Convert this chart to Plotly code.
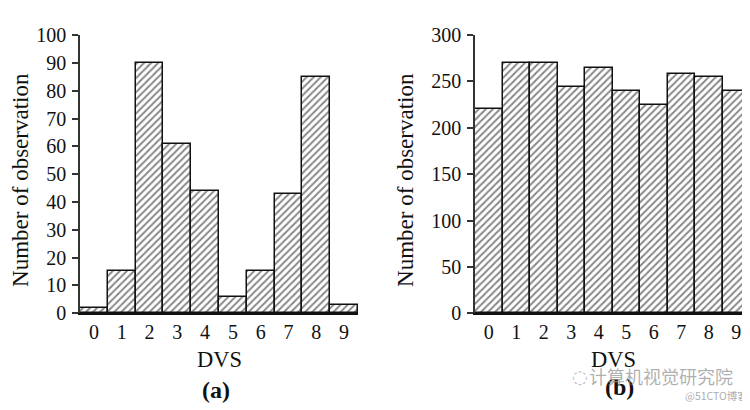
import plotly.graph_objects as go

dvs = [0, 1, 2, 3, 4, 5, 6, 7, 8, 9]
counts_a = [2, 15, 90, 61, 44, 6, 15, 43, 85, 3]
counts_b = [220, 270, 270, 244, 264, 240, 225, 258, 255, 240]
yticks_a = list(range(0, 101, 10))
yticks_b = list(range(0, 301, 50))

FONT = "Liberation Serif"
W, H = 750, 410

fig = go.Figure()

bar_style = dict(
    width=1.0,
    marker=dict(
        color="white",
        line=dict(color="#111", width=1.5),
        pattern=dict(shape="/", fgcolor="#111", bgcolor="white", size=5, solidity=0.4),
    ),
    showlegend=False,
)

fig.add_trace(go.Bar(x=dvs, y=counts_a, xaxis="x", yaxis="y", **bar_style))
fig.add_trace(go.Bar(x=dvs, y=counts_b, xaxis="x2", yaxis="y2", **bar_style))

def px_x(p):
    return p / W

def px_y(p):
    return 1 - p / H

ydom = [px_y(311), px_y(17)]

common_x = dict(
    range=[-0.5, 9.5], tickvals=dvs, ticks="", showline=True, linecolor="#111", linewidth=2,
    showgrid=False, zeroline=False, tickfont=dict(family=FONT, size=20, color="#111"),
    ticklabelstandoff=0, fixedrange=True,
)
common_y = dict(
    ticks="outside", ticklen=6, tickcolor="#333", tickwidth=1.5, showline=True, linecolor="#333",
    linewidth=1.5, showgrid=False, zeroline=False, tickfont=dict(family=FONT, size=20, color="#111"),
    ticklabelstandoff=2, fixedrange=True,
)

fig.update_layout(
    width=W, height=H,
    margin=dict(l=0, r=0, t=0, b=0),
    paper_bgcolor="white", plot_bgcolor="white",
    bargap=0,
    xaxis=dict(domain=[px_x(72), px_x(350)], anchor="y", **common_x),
    yaxis=dict(domain=ydom, anchor="x", range=[0, 100], tickvals=yticks_a, **common_y),
    xaxis2=dict(domain=[px_x(467), px_x(742)], anchor="y2", **common_x),
    yaxis2=dict(domain=ydom, anchor="x2", range=[0, 300], tickvals=yticks_b, **common_y),
)

ann = []
def text(x, y, s, size=22, bold=False, color="#111", angle=0, family=FONT, xanchor="center"):
    ann.append(dict(
        x=px_x(x), y=px_y(y), xref="paper", yref="paper", text=("<b>%s</b>" % s) if bold else s,
        showarrow=False, textangle=angle, xanchor=xanchor, yanchor="middle",
        font=dict(family=family, size=size, color=color),
    ))

text(13, 170, "Number of observation", size=23, angle=-90)
text(398, 170, "Number of observation", size=23, angle=-90)
text(211, 360, "DVS", size=22.5)
text(605, 360, "DVS", size=22.5)
text(208, 392, "(a)", size=24, bold=True)
text(611, 389, "(b)", size=24, bold=True)
text(653, 377, "计算机视觉研究院", size=18, color="rgba(150,150,150,0.75)", family="Noto Sans CJK SC")
text(572, 378, "◌", size=18, color="rgba(160,160,160,0.7)", family="DejaVu Sans")
text(708, 398, "@51CTO博客", size=10.5, color="rgba(150,150,150,0.8)", family="Noto Sans CJK SC")

fig.update_layout(annotations=ann)
fig.write_html("out.html")
